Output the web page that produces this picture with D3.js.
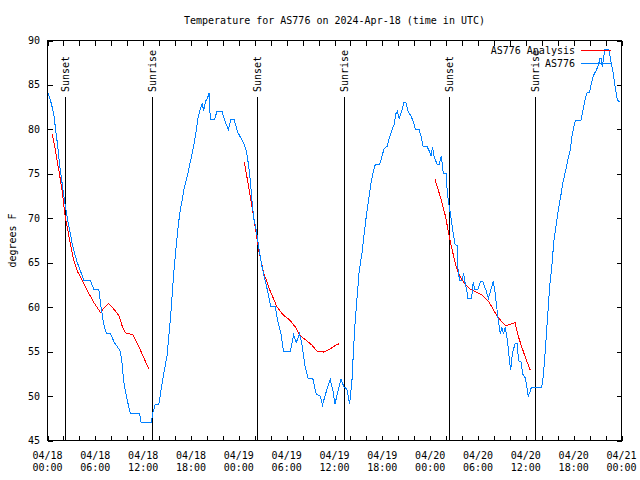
<!DOCTYPE html>
<html>
<head>
<meta charset="utf-8">
<script src="https://cdn.jsdelivr.net/npm/d3@7"></script>
<style>
  html, body { margin: 0; padding: 0; background: #fff; }
  svg { display: block; }
  text { font-family: "DejaVu Sans Mono", "Liberation Mono", monospace; font-size: 10px; fill: #000; }
</style>
</head>
<body>
<svg id="chart" width="640" height="480"></svg>
<script>
// ---------------- DATA ----------------
const titleText = "Temperature for AS776 on 2024-Apr-18 (time in UTC)";
const yLabelText = "degrees F";
const startUTC = "2024-04-18T00:00:00Z";
const spanHours = 72;

// Observations (hours since start, deg F)
const obsHours = [0.0,0.38,0.79,1.0,1.3,1.55,1.84,2.13,2.47,2.8,3.1,3.42,3.72,4.13,4.55,5.4,5.8,6.43,6.72,7.05,7.4,7.9,8.4,8.8,9.15,9.36,9.56,9.9,10.2,10.4,11.57,11.74,13.0,13.24,13.5,13.95,14.37,14.66,15.0,15.29,15.5,15.7,15.9,16.13,16.33,16.58,16.88,17.17,17.5,17.83,18.13,18.42,18.67,18.89,19.17,19.39,19.6,19.8,20.1,20.26,20.43,20.93,21.26,21.9,22.3,22.7,23.0,23.4,23.85,24.27,24.6,24.94,25.2,25.44,25.65,25.85,26.2,26.5,26.8,27.1,27.5,28.0,28.57,28.85,29.3,29.6,30.45,30.87,31.2,31.6,31.9,32.33,32.7,33.27,33.7,34.2,34.5,34.8,35.46,35.8,36.05,36.4,36.8,37.2,37.55,37.9,38.2,38.4,38.6,38.8,39.1,39.44,39.72,39.97,40.26,40.56,40.8,41.1,41.64,41.94,42.2,42.6,42.9,43.2,43.5,43.7,43.9,44.1,44.45,44.7,44.95,45.2,45.65,45.9,46.15,46.6,46.9,47.1,47.6,47.9,48.1,48.3,48.5,48.9,49.1,49.4,49.66,50.0,50.16,50.5,50.84,51.1,51.4,51.5,51.7,51.97,52.2,52.4,52.6,52.7,53.2,53.4,53.6,54.0,54.3,54.6,55.0,55.3,55.6,55.9,56.1,56.35,56.55,56.8,57.0,57.2,57.4,57.7,57.9,58.1,58.3,58.65,58.9,59.1,59.4,59.6,59.9,60.1,60.3,60.5,60.7,62.0,62.2,62.4,62.6,62.8,63.0,63.3,63.5,63.8,64.1,64.4,64.7,65.05,65.3,65.6,65.8,66.2,66.9,67.2,67.5,67.7,68.0,68.2,68.5,68.8,69.1,69.3,69.45,69.6,69.9,70.4,70.7,71.0,71.2,71.5,71.8];
const obsTemps = [84.2,83.25,81.75,80.1,78,75.75,73.9,72,70.1,68.6,67.1,66,65.05,64.1,63,63,62,62,60,58.1,57,57,56,55.5,55,53.6,51.6,50,48.75,48,48,47,47,48.2,49,49,51.4,52.9,54.6,57.4,59.6,62.25,64.5,66.75,68.6,70.5,72,73.5,74.6,76,77.25,78.55,79.9,81.4,82.3,82.9,82.1,83.1,83.6,84.1,81.1,81.1,82,82,80.8,80,81.1,81.1,79.7,79,78.5,77.6,76.1,74.3,72,70.1,68.6,66.75,65.05,63.75,62.25,60.1,60.1,58.5,57,55,55,56.9,56,57,55.9,53.25,52,52,50.25,50,49,50,51.9,50.6,49.1,50.4,51.9,51,50.8,49.1,51.9,55.5,58.5,60.75,64.1,66,68.25,70.1,72,73.9,75,76,76,76.9,77.8,78.1,79.1,79.9,80.6,81.75,82.05,81.2,82.1,83,83,82.1,81.4,80.8,80,80,79.1,78.1,78.1,77.55,77,78,76.9,76,76,77,75,75,72.75,70.7,68.6,67.1,66.9,64.1,63,63,63.8,62.6,61.9,61,61,62.8,62,62,62.9,62.9,61.9,61,61.9,62.9,62,60,58.5,57,57.75,57,57.75,56.25,54.4,52.9,54.75,55.9,55.9,54,53.8,52.5,52.1,51.2,50,50.4,51,51,52.3,54.6,57.2,59.8,62.4,65,67.3,69.2,71.1,72.6,74.25,75.55,76.7,77.8,79.3,81,81,82.3,83.6,84.2,84.2,85.1,86.1,86.6,87.2,88,88,87,89,89,87.55,86.1,84.75,83.25,83.1];

// Analysis (null = gap between nights)
const anaHours = [0.59,1.0,1.42,1.84,2.17,2.47,2.88,3.3,3.72,4.35,4.97,5.8,6.64,7.05,7.68,8.3,8.93,9.36,9.77,10.7,11.2,11.86,12.7, 18,
  24.7,25.44,26.06,26.5,27.1,27.9,28.8,29.6,30.45,31.1,31.7,32.5,33.2,33.8,34.6,35.46,36.1,36.6, 42,
  48.6,49.25,49.9,50.5,51.1,51.5,52.2,53.0,53.8,54.6,55.4,56.0,56.65,57.5,58.1,58.65,59.1,59.5,60.0,60.56];
const anaTemps = [79.5,77.6,75.4,73.1,70.5,69,67.1,65.25,64.1,63,61.9,60.55,59.4,59.9,60.4,59.8,59.1,57.9,57.1,56.9,56.05,54.75,53.05, null,
  76.3,72.4,69,66.4,63.9,61.9,60,59.1,58.5,57.75,56.8,56.25,55.7,55.05,54.95,55.3,55.7,55.9, null,
  74.4,72.5,70.3,67.5,65.1,63.9,62.8,62.05,61.7,61.3,60.55,59.6,58.7,57.9,58.1,58.25,56.6,55.5,54.2,52.9];

// Sunset / sunrise markers (hours since start)
const eventHours = [2.25, 13.1, 26.25, 37.2, 50.3, 61.2];
const eventLabels = ["Sunset", "Sunrise", "Sunset", "Sunrise", "Sunset", "Sunrise"];

const yTicks = [45, 50, 55, 60, 65, 70, 75, 80, 85, 90];
const seriesNames = ["AS776 Analysis", "AS776"];
const seriesColors = ["#ff0000", "#0080ff"];

// ---------------- CHART ----------------
const svg = d3.select("#chart");
const t0 = new Date(startUTC).getTime();
const toDate = h => new Date(t0 + h * 3600000);

const L = 47.5, R = 621.5, T = 40.5, B = 440.5;
const x = d3.scaleUtc().domain([toDate(0), toDate(spanHours)]).range([L, R]);
const y = d3.scaleLinear().domain([45, 90]).range([B, T]);

// ticks every 2 hours
const tickDates = d3.utcHour.every(2).range(toDate(0), toDate(spanHours + 0.01));
const labelDates = d3.utcHour.every(6).range(toDate(0), toDate(spanHours + 0.01));

const axisG = svg.append("g").attr("shape-rendering", "crispEdges");
axisG.append("g").attr("transform", `translate(0,${B})`)
  .call(d3.axisBottom(x).tickValues(tickDates).tickSize(-5).tickSizeOuter(0).tickFormat(""))
  .call(g => g.select(".domain").remove());
axisG.append("g").attr("transform", `translate(0,${T})`)
  .call(d3.axisTop(x).tickValues(tickDates).tickSize(-5).tickSizeOuter(0).tickFormat(""))
  .call(g => g.select(".domain").remove());
axisG.append("g").attr("transform", `translate(${L},0)`)
  .call(d3.axisLeft(y).tickValues(yTicks).tickSize(-5).tickSizeOuter(0).tickFormat(""))
  .call(g => g.select(".domain").remove());
axisG.append("g").attr("transform", `translate(${R},0)`)
  .call(d3.axisRight(y).tickValues(yTicks).tickSize(-5).tickSizeOuter(0).tickFormat(""))
  .call(g => g.select(".domain").remove());
axisG.selectAll("line").attr("stroke", "#000");

// y labels
svg.append("g").selectAll("text").data(yTicks).join("text")
  .attr("x", 40).attr("y", d => y(d)).attr("dy", "0.35em")
  .attr("text-anchor", "end").text(d => d);

// x labels
const fmtDay = d3.utcFormat("%m/%d"), fmtHour = d3.utcFormat("%H:%M");
const xl = svg.append("g").selectAll("text").data(labelDates).join("text")
  .attr("text-anchor", "middle");
xl.append("tspan").attr("x", d => x(d)).attr("y", 458.5).text(d => fmtDay(d));
xl.append("tspan").attr("x", d => x(d)).attr("y", 470.5).text(d => fmtHour(d));

// sunset / sunrise lines
const ev = svg.append("g");
ev.selectAll("line").data(eventHours).join("line")
  .attr("x1", d => Math.round(x(toDate(d))) + 0.5).attr("x2", d => Math.round(x(toDate(d))) + 0.5)
  .attr("y1", 97).attr("y2", B).attr("stroke", "#000").attr("shape-rendering", "crispEdges");
ev.selectAll("text").data(eventHours).join("text")
  .attr("transform", d => `translate(${Math.round(x(toDate(d))) + 4},92) rotate(-90)`)
  .attr("text-anchor", "start").text((d, i) => eventLabels[i]);

// lines
const obs = obsHours.map((h, i) => ({ t: toDate(h), v: obsTemps[i] }));
const ana = anaHours.map((h, i) => ({ t: toDate(h), v: anaTemps[i] }));
const line = d3.line().defined(d => d.v !== null).x(d => x(d.t)).y(d => y(d.v));

svg.append("path").datum(ana).attr("d", line)
  .attr("fill", "none").attr("stroke", seriesColors[0]).attr("stroke-width", 1)
  .attr("shape-rendering", "crispEdges");
svg.append("path").datum(obs).attr("d", line)
  .attr("fill", "none").attr("stroke", seriesColors[1]).attr("stroke-width", 1)
  .attr("shape-rendering", "crispEdges");

// border
svg.append("rect").attr("x", L).attr("y", T).attr("width", R - L).attr("height", B - T)
  .attr("fill", "none").attr("stroke", "#000").attr("shape-rendering", "crispEdges");

// legend
const lg = svg.append("g");
seriesNames.forEach((name, i) => {
  const yy = 50 + i * 13;
  lg.append("text").attr("x", 575).attr("y", yy).attr("dy", "0.35em")
    .attr("text-anchor", "end").text(name);
  lg.append("line").attr("x1", 581).attr("x2", 611).attr("y1", yy + 0.5).attr("y2", yy + 0.5)
    .attr("stroke", seriesColors[i]).attr("shape-rendering", "crispEdges");
});

// title and y axis label
svg.append("text").attr("x", (L + R) / 2).attr("y", 20).attr("dy", "0.35em")
  .attr("text-anchor", "middle").text(titleText);
svg.append("text").attr("transform", `translate(12,${(T + B) / 2}) rotate(-90)`)
  .attr("text-anchor", "middle").attr("dy", "0.35em").text(yLabelText);
</script>
</body>
</html>
